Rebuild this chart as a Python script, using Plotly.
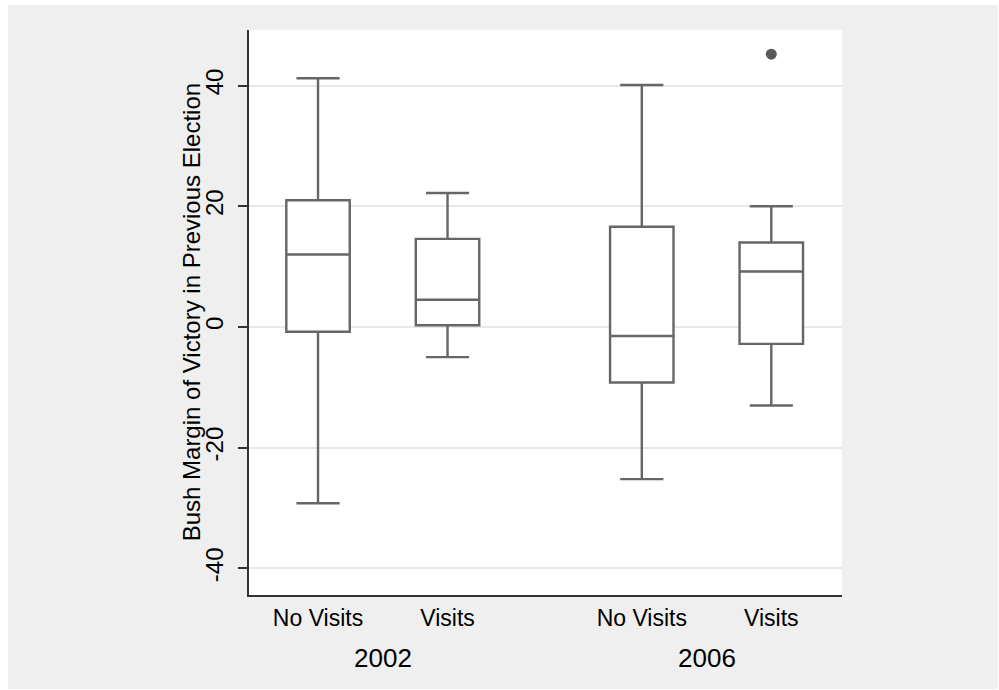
import plotly.graph_objects as go

# ---- data ----
groups = ["2002", "2002", "2006", "2006"]
categories = ["No Visits", "Visits", "No Visits", "Visits"]
positions = [0, 1, 2.5, 3.5]
lower_whisker = [-29.2, -5.0, -25.2, -13.0]
q1_vals = [-0.8, 0.3, -9.2, -2.8]
median_vals = [12.0, 4.5, -1.5, 9.2]
q3_vals = [21.0, 14.6, 16.6, 14.0]
upper_whisker = [41.2, 22.2, 40.1, 20.0]
outlier_x = [3.5]
outlier_y = [45.2]
year_labels = ["2002", "2006"]
year_positions = [0.5, 3.0]
y_ticks = [-40, -20, 0, 20, 40]
y_tick_text = ["-40", "-20", "0", "20", "40"]

LINE = "#666666"
FONT = "Liberation Sans, Arial, sans-serif"
TXT = "#000000"

fig = go.Figure()
for i in range(len(positions)):
    fig.add_trace(go.Box(
        x=[positions[i]],
        q1=[q1_vals[i]], median=[median_vals[i]], q3=[q3_vals[i]],
        lowerfence=[lower_whisker[i]], upperfence=[upper_whisker[i]],
        width=0.49, whiskerwidth=0.68,
        line=dict(color=LINE, width=2.4),
        fillcolor="white",
        boxpoints=False,
        showlegend=False, hoverinfo="skip",
    ))

fig.add_trace(go.Scatter(
    x=outlier_x, y=outlier_y, mode="markers",
    marker=dict(color="#5a5a5a", size=11),
    showlegend=False, hoverinfo="skip",
))

for lbl, pos in zip(year_labels, year_positions):
    fig.add_annotation(x=pos, xref="x", y=-0.1115, yref="paper",
                       text=lbl, showarrow=False, yanchor="middle",
                       font=dict(family=FONT, size=26, color=TXT))

fig.add_annotation(x=-0.0964, xref="paper", y=0.5, yref="paper",
                   text="Bush Margin of Victory in Previous Election",
                   textangle=-90, showarrow=False,
                   xanchor="center", yanchor="middle",
                   font=dict(family=FONT, size=24, color=TXT))

fig.update_layout(
    width=999, height=690,
    margin=dict(l=249, r=157, t=30, b=95),
    paper_bgcolor="white", plot_bgcolor="white",
    boxmode="overlay",
    shapes=[
        dict(type="rect", xref="paper", yref="paper",
             x0=-0.4064, x1=1.2631, y0=-0.1664, y1=1.0442,
             fillcolor="#efefef", line=dict(width=0), layer="below"),
        dict(type="rect", xref="paper", yref="paper",
             x0=0, x1=1, y0=0, y1=1,
             fillcolor="white", line=dict(width=0), layer="below"),
    ],
    xaxis=dict(
        range=[-0.533, 4.046],
        tickvals=positions, ticktext=categories,
        showgrid=False, zeroline=False,
        showline=True, linecolor="#333333", linewidth=1.5,
        ticks="", ticklabelstandoff=2,
        tickfont=dict(family=FONT, size=23, color=TXT),
    ),
    yaxis=dict(
        range=[-44.4, 49.2],
        tickvals=y_ticks, ticktext=y_tick_text,
        showgrid=True, gridcolor="#e8e8e8", gridwidth=2,
        zeroline=False,
        showline=True, linecolor="#333333", linewidth=1.5,
        ticks="outside", ticklen=9, tickcolor="#333333", tickwidth=1.5,
        tickangle=-90, ticklabelstandoff=6,
        tickfont=dict(family=FONT, size=24, color=TXT),
    ),
)

fig.write_html("out.html")
